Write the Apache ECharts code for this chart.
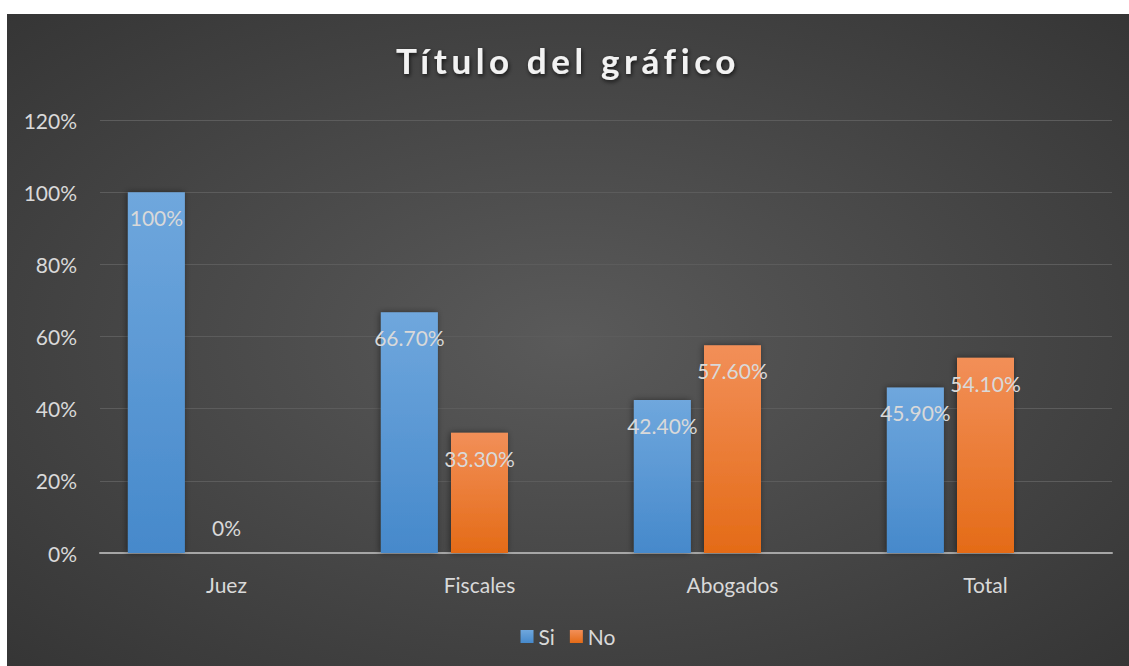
<!DOCTYPE html>
<html>
<head>
<meta charset="utf-8">
<script src="https://cdn.jsdelivr.net/npm/echarts@6/dist/echarts.min.js"></script>
<style>
  html, body { margin: 0; padding: 0; background: #fff; }
  #chart { position: absolute; left: 7px; top: 14px; width: 1122px; height: 652px; }
</style>
</head>
<body>
<div id="chart"></div>
<script>
const categories = ['Juez', 'Fiscales', 'Abogados', 'Total'];
const siValues = [100, 66.7, 42.4, 45.9];
const noValues = [0, 33.3, 57.6, 54.1];
// third empty series in the source workbook, keeps bars offset left
const emptyValues = [null, null, null, null];
const TITLE = 'Título del gráfico';

const FONT = 'Lato, "Open Sans", sans-serif';
const fmt = v => (Number.isInteger(v) ? v + '%' : v.toFixed(2) + '%');

const toData = vals => vals.map(v => v === 0
  ? { value: v, label: { position: 'top', distance: 15 } }
  : v);

const barLabel = {
  show: true,
  position: 'insideTop',
  distance: 15,
  color: '#d9d9d9',
  fontSize: 21,
  fontFamily: FONT,
  formatter: p => fmt(p.value)
};

const grad = (top, bottom) => new echarts.graphic.LinearGradient(0, 0, 0, 1, [
  { offset: 0, color: top },
  { offset: 1, color: bottom }
]);

const myChart = echarts.init(document.getElementById('chart'), null, { renderer: 'svg' });

const option = {
  backgroundColor: {
    type: 'radial', x: 0.5, y: 0.5, r: 1,
    colorStops: [
      { offset: 0, color: '#5a5a5a' },
      { offset: 1, color: '#262626' }
    ]
  },
  animation: false,
  title: {
    text: TITLE,
    left: 'center',
    top: 23,
    textStyle: {
      color: '#f2f2f2',
      fontSize: 35,
      fontWeight: 'bold',
      fontFamily: FONT,
      textShadowColor: 'rgba(0,0,0,0.7)',
      textShadowBlur: 4,
      textShadowOffsetX: 1,
      textShadowOffsetY: 2
    }
  },
  legend: {
    data: ['Si', 'No'],
    bottom: 14,
    left: 'center',
    icon: 'rect',
    itemWidth: 13,
    itemHeight: 13,
    itemGap: 15,
    textStyle: { color: '#d9d9d9', fontSize: 21, fontFamily: FONT }
  },
  grid: { left: 93, right: 17, top: 106, bottom: 113 },
  xAxis: {
    type: 'category',
    data: categories,
    axisLine: { lineStyle: { color: '#a6a6a6', width: 2 } },
    axisTick: { show: false },
    axisLabel: { color: '#d9d9d9', fontSize: 21, fontFamily: FONT, margin: 21 }
  },
  yAxis: {
    type: 'value',
    min: 0,
    max: 120,
    interval: 20,
    axisLine: { show: false },
    axisTick: { show: false },
    axisLabel: { color: '#d9d9d9', fontSize: 21, fontFamily: FONT, margin: 23, formatter: v => v + '%' },
    splitLine: { lineStyle: { color: '#5c5c5c', width: 1 } }
  },
  series: [
    {
      name: 'Si',
      type: 'bar',
      barWidth: 57,
      barGap: '23%',
      data: toData(siValues),
      itemStyle: {
        color: grad('#6fa7dd', '#4689cb'),
        shadowColor: 'rgba(0,0,0,0.45)',
        shadowBlur: 6,
        shadowOffsetX: -1
      },
      label: barLabel
    },
    {
      name: 'No',
      type: 'bar',
      barWidth: 57,
      barGap: '23%',
      data: toData(noValues),
      itemStyle: {
        color: grad('#f28f58', '#e46b17'),
        shadowColor: 'rgba(0,0,0,0.45)',
        shadowBlur: 6,
        shadowOffsetX: -1
      },
      label: barLabel
    },
    {
      name: 'Serie3',
      type: 'bar',
      barWidth: 57,
      barGap: '23%',
      data: emptyValues
    }
  ]
};

myChart.setOption(option);

// the workbook title uses wide character spacing
const spaceTitle = () => {
  document.querySelectorAll('#chart svg text').forEach(t => {
    if (t.textContent === TITLE) t.setAttribute('letter-spacing', '4.6');
  });
};
spaceTitle();
myChart.on('finished', spaceTitle);

window.addEventListener('resize', () => myChart.resize());
</script>
</body>
</html>
